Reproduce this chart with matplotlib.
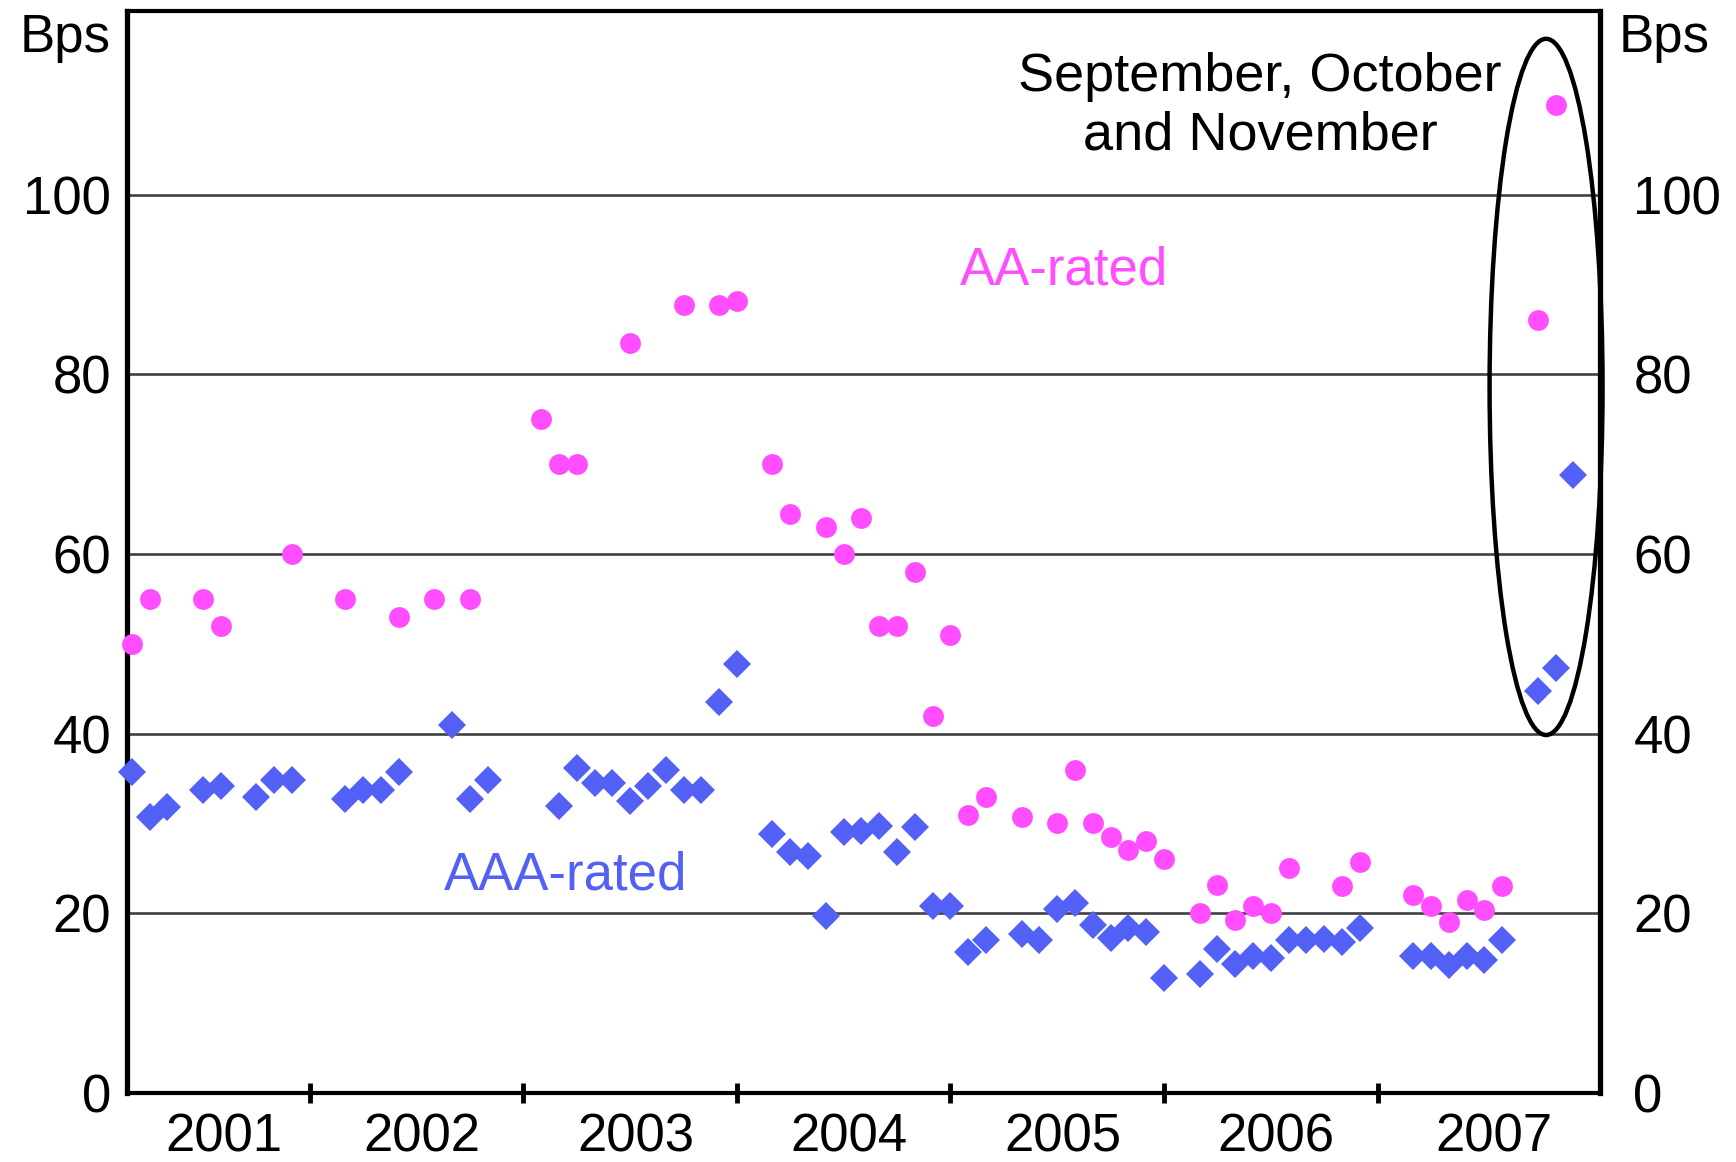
import matplotlib
matplotlib.use("Agg")
import matplotlib.pyplot as plt
from matplotlib.patches import Ellipse

plt.rcParams['font.family'] = ['Liberation Sans', 'DejaVu Sans']

# x values: months since January 2001 (0 = Jan 2001)
aa_month = [2, 3, 6, 7, 11, 14, 17, 19, 21, 25, 26, 27, 30, 33, 35, 36, 38, 39, 41, 42,
            43, 44, 45, 46, 47, 48, 49, 50, 52, 54, 55, 56, 57, 58, 59, 60, 62, 63, 64,
            65, 66, 67, 70, 71, 74, 75, 76, 77, 78, 79, 81, 82]
aa_vals = [50, 55, 55, 52, 60, 55, 53, 55, 55, 75, 70, 70, 83.5, 87.7, 87.7, 88.2, 70, 64.4,
           63, 60, 64, 52, 52, 58, 42, 51, 31, 33, 30.7, 30, 36, 30, 28.5, 27, 28, 26, 20,
           23.2, 19.3, 20.8, 20, 25, 23, 25.7, 22, 20.8, 19, 21.5, 20.4, 23, 86, 110]

aaa_month = [2, 3, 4, 6, 7, 9, 10, 11, 14, 15, 16, 17, 20, 21, 22, 26, 27, 28, 29, 30, 31,
             32, 33, 34, 35, 36, 38, 39, 40, 41, 42, 43, 44, 45, 46, 47, 48, 49, 50, 52, 53,
             54, 55, 56, 57, 58, 59, 60, 62, 63, 64, 65, 66, 67, 68, 69, 70, 71, 74, 75, 76,
             77, 78, 79, 81, 82, 83]
aaa_vals = [35.7, 30.7, 31.8, 33.7, 34.2, 33, 34.8, 34.8, 32.7, 33.7, 33.7, 35.7, 41, 32.7,
            34.8, 32, 36.2, 34.5, 34.5, 32.5, 34.2, 36, 33.7, 33.7, 43.5, 47.7, 28.8, 26.8,
            26.4, 19.7, 29, 29.2, 29.7, 26.8, 29.6, 20.8, 20.8, 15.7, 17, 17.7, 17, 20.5,
            21.1, 18.7, 17.2, 18.4, 17.9, 12.8, 13.3, 16, 14.4, 15.2, 15, 17, 17, 17.1, 16.8,
            18.4, 15.3, 15.3, 14.3, 15.3, 14.8, 17, 44.8, 47.3, 68.8]

years = ['2001', '2002', '2003', '2004', '2005', '2006', '2007']
year_bounds = [12, 24, 36, 48, 60, 72]
y_ticks = [0, 20, 40, 60, 80, 100]

PINK = '#FF4DFF'
BLUE = '#5260F5'
FS = 38

xmin, xmax = 1.7, 84.5
ymin, ymax = 0, 120.5

fig = plt.figure(figsize=(17.36, 11.62), dpi=100)
ax = fig.add_axes([126.5 / 1736, 1 - 1093 / 1162, (1600 - 126.5) / 1736, (1093 - 10.5) / 1162])
ax.set_xlim(xmin, xmax)
ax.set_ylim(ymin, ymax)

for v in y_ticks[1:]:
    ax.axhline(v, color='#404040', lw=1.9, zorder=1)

ax.plot(aa_month, aa_vals, linestyle='none', marker='o', ms=15, color=PINK,
        markeredgewidth=0, zorder=3, clip_on=False)
ax.plot(aaa_month, aaa_vals, linestyle='none', marker='D', ms=14, color=BLUE,
        markeredgewidth=0, zorder=3, clip_on=False)

# spines
for side, lw in [('left', 3.8), ('right', 3.8), ('top', 3.0), ('bottom', 3.0)]:
    ax.spines[side].set_linewidth(lw)
    ax.spines[side].set_color('black')

# x ticks: year boundaries (major) and year labels (minor)
edges = [xmin] + year_bounds + [xmax]
label_pos = [(edges[i] + edges[i + 1]) / 2 + 0.3 for i in range(len(years))]
ax.set_xticks(year_bounds)
ax.set_xticklabels([])
ax.tick_params(axis='x', which='major', direction='inout', length=15, width=3.5)
ax.set_xticks(label_pos, minor=True)
ax.set_xticklabels(years, minor=True, fontsize=FS)
ax.tick_params(axis='x', which='minor', length=0, pad=14)

# y ticks left
ax.set_yticks(y_ticks)
ax.set_yticklabels([str(v) for v in y_ticks], fontsize=FS)
ax.tick_params(axis='y', length=0, pad=11)

# y ticks right
ax2 = ax.twinx()
ax2.set_ylim(ymin, ymax)
ax2.set_yticks(y_ticks)
ax2.set_yticklabels([str(v) for v in y_ticks], fontsize=FS)
ax2.tick_params(axis='y', length=0, pad=24)
for s in ax2.spines.values():
    s.set_visible(False)

# unit labels
fig.text(111 / 1736, 1 - 52 / 1162, 'Bps', ha='right', va='baseline', fontsize=FS)
fig.text(1619 / 1736, 1 - 52 / 1162, 'Bps', ha='left', va='baseline', fontsize=FS)

# series labels
ax.text(54.4, 90.0, 'AA-rated', color=PINK, fontsize=FS, ha='center', va='baseline', zorder=4)
ax.text(26.4, 22.7, 'AAA-rated', color=BLUE, fontsize=FS, ha='center', va='baseline', zorder=4)

# annotation
ax.text(65.4, 115.9, 'September, October\nand November', fontsize=FS + 1, ha='center',
        va='top', multialignment='center', linespacing=1.22, zorder=4)
ell = Ellipse((81.47, 78.6), width=6.35, height=77.5, fill=False, edgecolor='black',
              lw=3.2, zorder=5, clip_on=False)
ax.add_patch(ell)

fig.savefig('out.png', dpi=100, facecolor='white')
